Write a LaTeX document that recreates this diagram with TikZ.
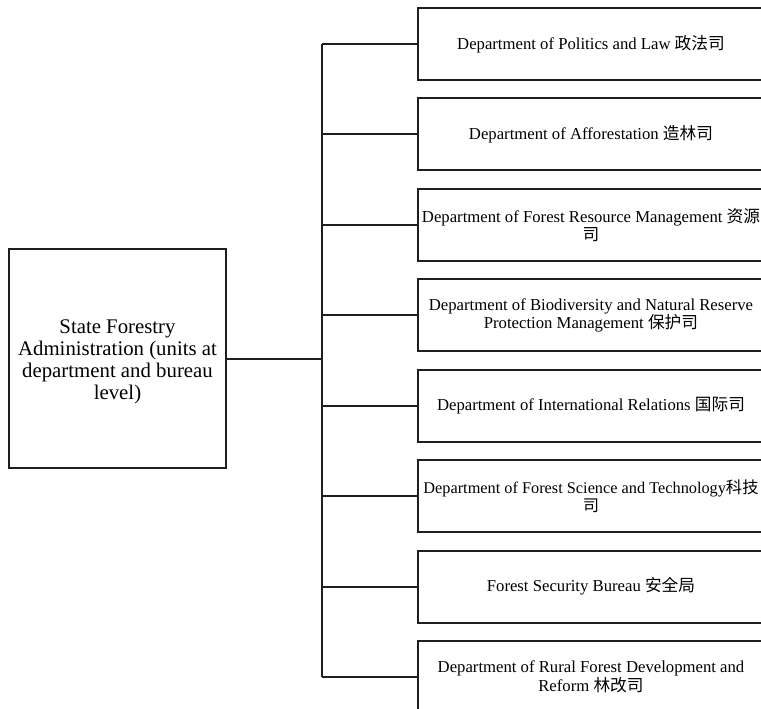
\documentclass[tikz,border=0pt]{standalone}
\usepackage{fontspec}
\setmainfont{Liberation Serif}
\newfontfamily\cjk{Noto Sans CJK SC}
\begin{document}
\begin{tikzpicture}[x=1pt,y=-1pt,
  linecol/.style={draw=black!88, line width=2pt},
  dept/.style={linecol, fill=white, anchor=west, minimum width=346pt, minimum height=72pt,
    inner xsep=1pt, inner ysep=0pt, align=center, font=\fontsize{16.7}{18.4}\selectfont},
  rootbox/.style={linecol, fill=white, minimum width=217pt, minimum height=219pt,
    inner sep=0pt, align=center, font=\fontsize{20.8}{21.8}\selectfont}]
\useasboundingbox (0,0) rectangle (761,709);
\clip (0,0) rectangle (761,709);
\node[rootbox] (root) at (117.5,358.5) {\raisebox{-3.5pt}[\height][\depth]{\begin{tabular}{@{}c@{}}State Forestry\\Administration (units at\\department and bureau\\level)\end{tabular}}};
\node[dept] (b1) at (417,44) {Department of Politics and Law {\cjk 政法司}};
\node[dept] (b2) at (417,134.4) {Department of Afforestation {\cjk 造林司}};
\node[dept] (b3) at (417,224.9) {Department of Forest Resource Management {\cjk 资源}\\{\cjk 司}};
\node[dept] (b4) at (417,315.3) {Department of Biodiversity and Natural Reserve\\Protection Management {\cjk 保护司}};
\node[dept] (b5) at (417,405.7) {Department of International Relations {\cjk 国际司}};
\node[dept, font=\fontsize{16.3}{18.4}\selectfont] (b6) at (417,496.1) {Department of Forest Science and Technology{\cjk 科技}\\{\cjk 司}};
\node[dept] (b7) at (417,586.6) {Forest Security Bureau {\cjk 安全局}};
\node[dept] (b8) at (417,677) {Department of Rural Forest Development and\\Reform {\cjk 林改司}};
\coordinate (ttop) at (322,44);
\coordinate (tbot) at (322,677);
\draw[linecol] (ttop) -- (tbot);
\draw[linecol] (root.east) -- (root.east -| ttop);
\foreach \b in {b1,b2,b3,b4,b5,b6,b7,b8}{
  \draw[linecol] (\b.west -| ttop) -- (\b.west);
}
\end{tikzpicture}
\end{document}
